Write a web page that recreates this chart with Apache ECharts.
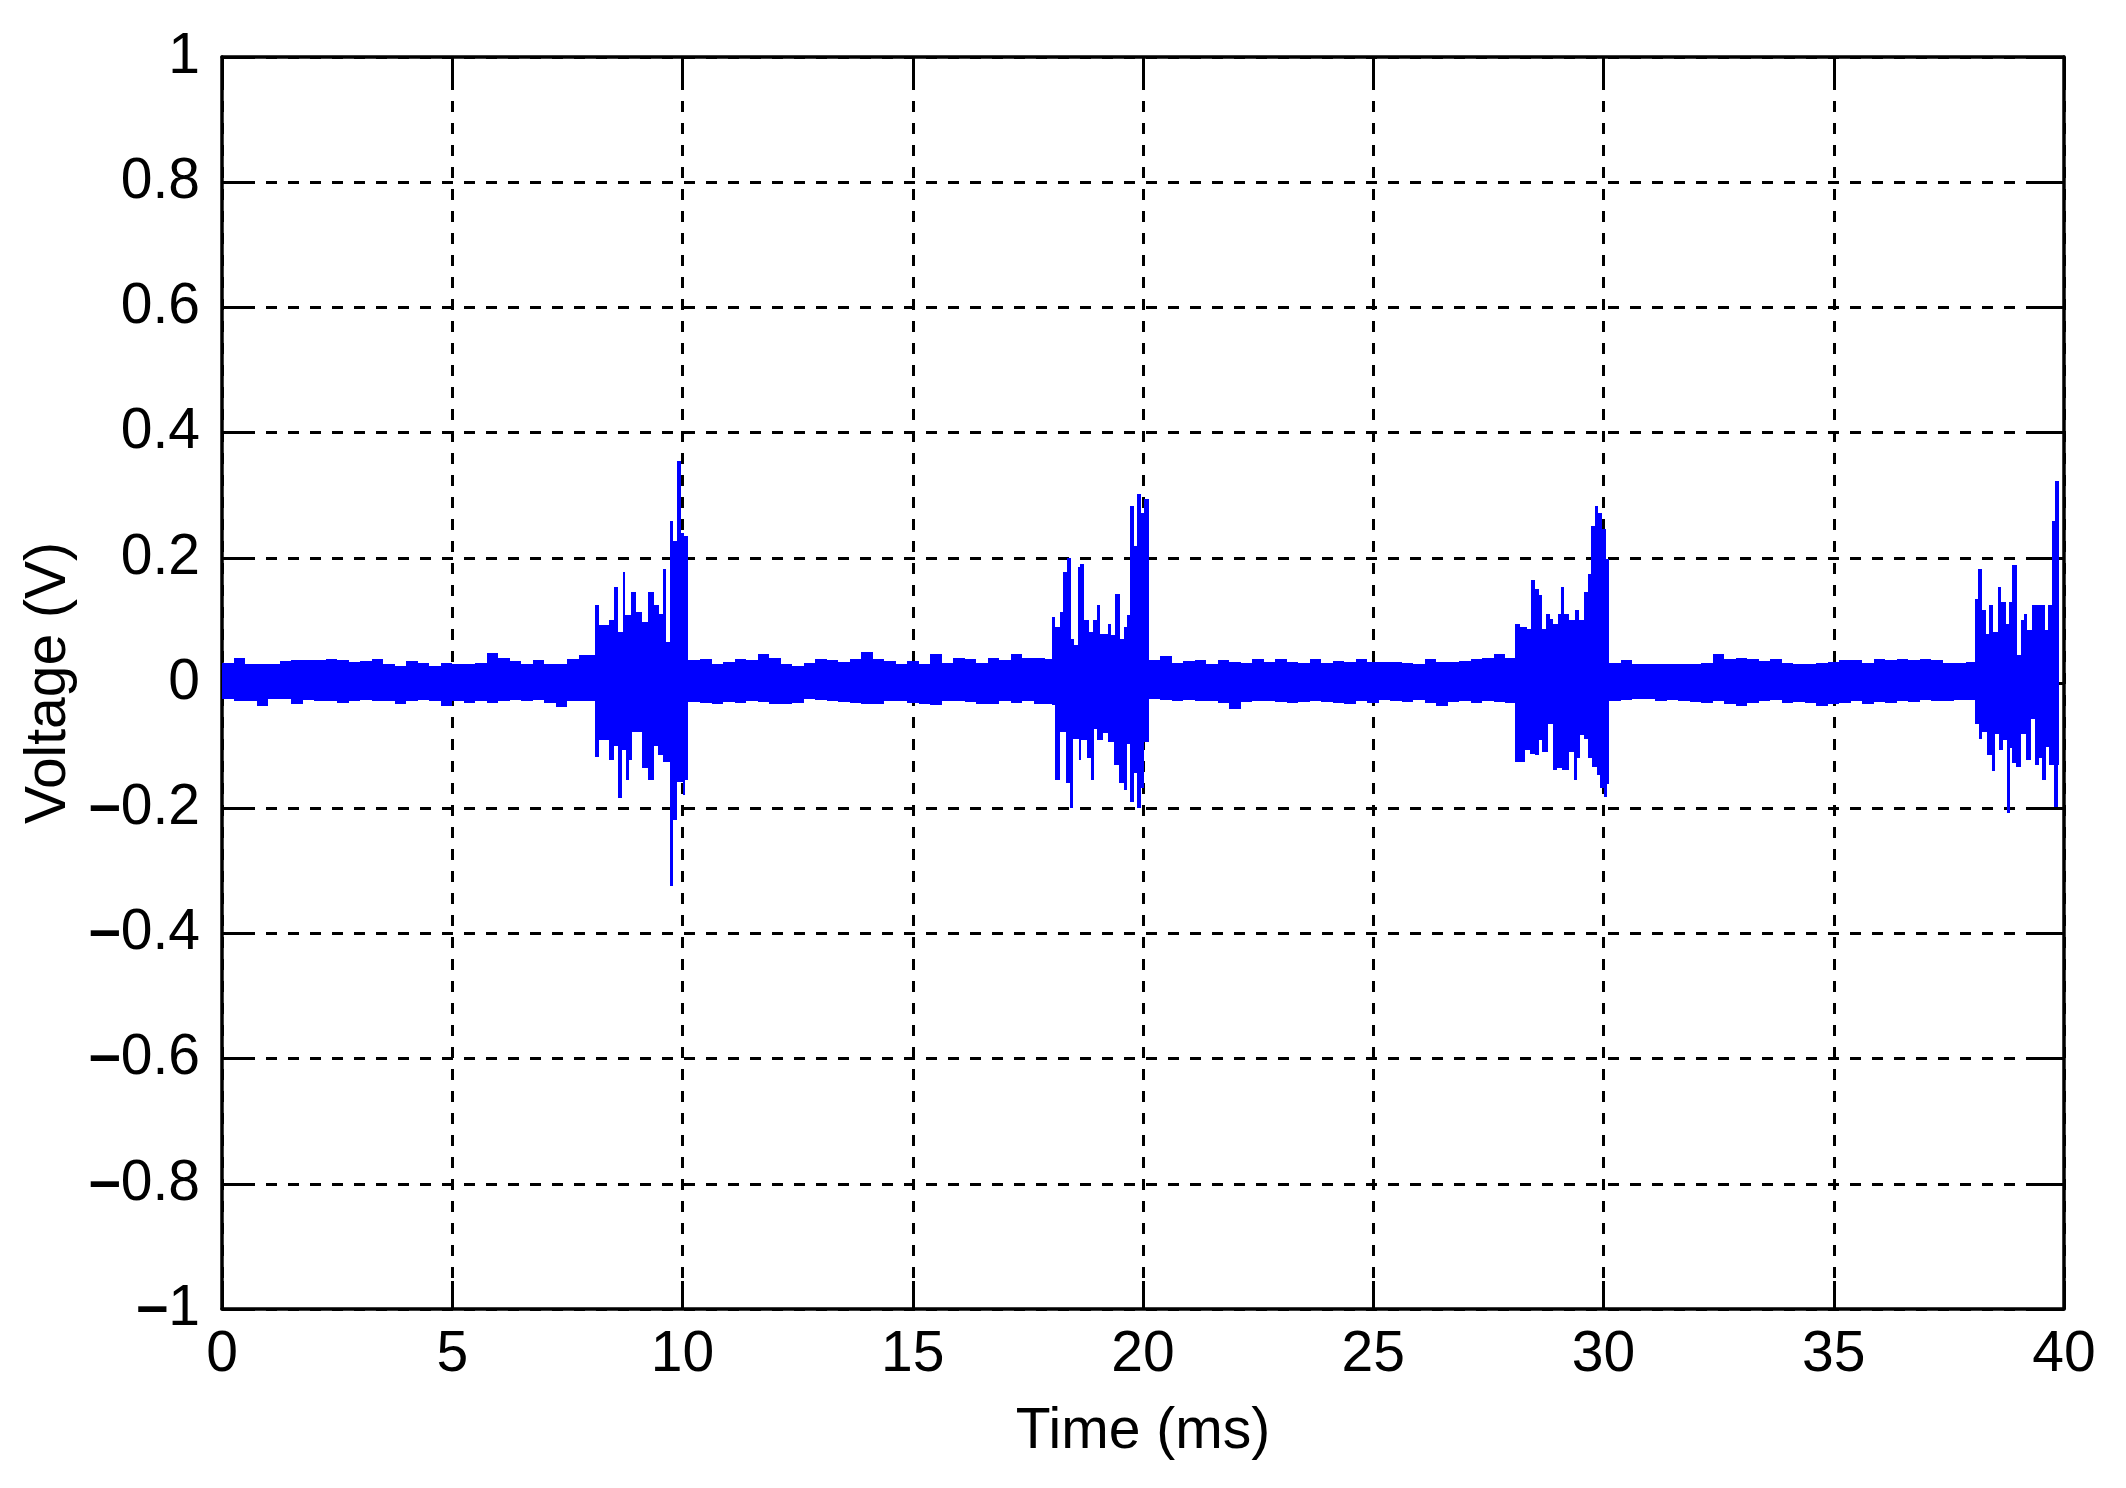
<!DOCTYPE html>
<html>
<head>
<meta charset="utf-8">
<title>Voltage (V) vs Time (ms)</title>
<script src="https://cdn.jsdelivr.net/npm/echarts@6/dist/echarts.min.js"></script>
<style>
    html, body { margin: 0; padding: 0; background: #fff; }
    #chart { width: 2126px; height: 1488px; }
</style>
</head>
<body>
<div id="chart"></div>
<script>
// signal envelope, volts
// quiet stretches: max / min of each 0.25 ms bin
var binWidth = 0.25;
var quietStarts = [0, 10.13, 20.12, 30.12];

var quiet0Hi = [0.032, 0.040, 0.030, 0.030, 0.031, 0.035, 0.036, 0.036, 0.036, 0.038, 0.036, 0.033, 0.035, 0.038, 0.030, 0.027,
                0.035, 0.032, 0.027, 0.032, 0.030, 0.030, 0.032, 0.048, 0.040, 0.035, 0.030, 0.036, 0.031, 0.031, 0.038, 0.044];
var quiet0Lo = [-0.026, -0.029, -0.029, -0.036, -0.025, -0.026, -0.033, -0.027, -0.029, -0.029, -0.032, -0.029, -0.027, -0.029, -0.029, -0.033,
                -0.029, -0.027, -0.029, -0.037, -0.029, -0.032, -0.029, -0.032, -0.029, -0.027, -0.029, -0.027, -0.032, -0.038, -0.029, -0.029];
var quiet1Hi = [0.036, 0.038, 0.031, 0.033, 0.039, 0.036, 0.046, 0.040, 0.030, 0.027, 0.032, 0.038, 0.036, 0.033, 0.039, 0.049,
                0.039, 0.035, 0.031, 0.035, 0.031, 0.046, 0.032, 0.040, 0.038, 0.032, 0.040, 0.036, 0.046, 0.040, 0.040, 0.038];
var quiet1Lo = [-0.031, -0.032, -0.034, -0.031, -0.032, -0.029, -0.031, -0.033, -0.033, -0.032, -0.026, -0.027, -0.029, -0.031, -0.032, -0.034,
                -0.033, -0.029, -0.029, -0.032, -0.033, -0.035, -0.029, -0.029, -0.031, -0.033, -0.034, -0.029, -0.032, -0.029, -0.034, -0.033];
var quiet2Hi = [0.036, 0.043, 0.032, 0.035, 0.036, 0.031, 0.036, 0.033, 0.032, 0.038, 0.033, 0.039, 0.033, 0.032, 0.038, 0.032,
                0.035, 0.033, 0.039, 0.033, 0.033, 0.033, 0.032, 0.031, 0.038, 0.033, 0.033, 0.035, 0.038, 0.040, 0.046, 0.040];
var quiet2Lo = [-0.026, -0.027, -0.029, -0.027, -0.029, -0.029, -0.032, -0.042, -0.031, -0.029, -0.029, -0.031, -0.032, -0.031, -0.029, -0.031,
                -0.032, -0.033, -0.029, -0.032, -0.027, -0.029, -0.031, -0.027, -0.032, -0.037, -0.031, -0.029, -0.032, -0.029, -0.031, -0.032];
var quiet3Hi = [0.032, 0.036, 0.031, 0.030, 0.030, 0.031, 0.030, 0.030, 0.032, 0.046, 0.039, 0.040, 0.039, 0.035, 0.038, 0.032,
                0.031, 0.031, 0.032, 0.033, 0.036, 0.036, 0.032, 0.038, 0.036, 0.039, 0.036, 0.038, 0.036, 0.032, 0.032, 0.033];
var quiet3Lo = [-0.029, -0.027, -0.026, -0.025, -0.029, -0.027, -0.029, -0.031, -0.032, -0.029, -0.033, -0.037, -0.032, -0.029, -0.027, -0.032,
                -0.031, -0.032, -0.037, -0.033, -0.032, -0.029, -0.034, -0.031, -0.032, -0.029, -0.031, -0.027, -0.029, -0.029, -0.027, -0.027];

// bursts: [time ms, volts] where the envelope steps
var burst1Hi = [[8.09, 0.124], [8.19, 0.092], [8.41, 0.100], [8.51, 0.153], [8.59, 0.081], [8.70, 0.177], [8.75, 0.108],
                [8.88, 0.145], [8.99, 0.113], [9.13, 0.097], [9.26, 0.145], [9.38, 0.124], [9.49, 0.110], [9.57, 0.182],
                [9.64, 0.065], [9.72, 0.259], [9.80, 0.227], [9.89, 0.355], [9.96, 0.240], [10.04, 0.235]];
var burst1Lo = [[8.09, -0.118], [8.19, -0.091], [8.41, -0.123], [8.51, -0.100], [8.59, -0.184], [8.69, -0.107], [8.77, -0.155],
                [8.84, -0.123], [8.91, -0.078], [9.13, -0.136], [9.24, -0.155], [9.38, -0.100], [9.46, -0.115], [9.57, -0.126],
                [9.72, -0.325], [9.80, -0.219], [9.89, -0.158], [10.00, -0.179], [10.05, -0.155]];
var burst2Hi = [[18.02, 0.105], [18.09, 0.089], [18.19, 0.113], [18.26, 0.177], [18.35, 0.200], [18.44, 0.071], [18.51, 0.060],
                [18.58, 0.185], [18.64, 0.190], [18.72, 0.100], [18.82, 0.081], [18.91, 0.100], [19.00, 0.124], [19.07, 0.079],
                [19.23, 0.095], [19.30, 0.076], [19.40, 0.142], [19.49, 0.071], [19.58, 0.090], [19.65, 0.108], [19.72, 0.283],
                [19.80, 0.219], [19.88, 0.302], [19.96, 0.272], [20.03, 0.294]];
var burst2Lo = [[18.02, -0.035], [18.09, -0.155], [18.19, -0.078], [18.33, -0.160], [18.41, -0.200], [18.49, -0.089], [18.60, -0.123],
                [18.65, -0.091], [18.78, -0.120], [18.86, -0.155], [18.93, -0.073], [19.01, -0.091], [19.14, -0.080], [19.25, -0.094],
                [19.36, -0.131], [19.47, -0.160], [19.58, -0.171], [19.65, -0.097], [19.72, -0.190], [19.80, -0.144], [19.87, -0.200],
                [19.96, -0.168], [20.03, -0.094]];
var burst3Hi = [[28.08, 0.095], [28.19, 0.089], [28.33, 0.087], [28.43, 0.164], [28.51, 0.150], [28.60, 0.140], [28.67, 0.087],
                [28.75, 0.110], [28.84, 0.103], [28.91, 0.095], [29.01, 0.110], [29.07, 0.153], [29.15, 0.110], [29.25, 0.100],
                [29.38, 0.116], [29.47, 0.100], [29.57, 0.145], [29.66, 0.174], [29.73, 0.251], [29.82, 0.283], [29.89, 0.272],
                [29.96, 0.246], [30.05, 0.198]];
var burst3Lo = [[28.08, -0.126], [28.30, -0.107], [28.41, -0.113], [28.51, -0.115], [28.60, -0.091], [28.66, -0.110], [28.80, -0.065],
                [28.91, -0.139], [28.99, -0.136], [29.09, -0.139], [29.24, -0.110], [29.35, -0.155], [29.42, -0.120], [29.49, -0.083],
                [29.57, -0.089], [29.67, -0.120], [29.75, -0.134], [29.86, -0.147], [29.93, -0.167], [30.00, -0.182], [30.07, -0.162]];
var burst4Hi = [[38.07, 0.134], [38.14, 0.182], [38.21, 0.116], [38.30, 0.079], [38.38, 0.124], [38.46, 0.081], [38.57, 0.153],
                [38.64, 0.129], [38.73, 0.095], [38.80, 0.129], [38.88, 0.188], [38.99, 0.044], [39.06, 0.100], [39.13, 0.110],
                [39.20, 0.084], [39.30, 0.124], [39.59, 0.084], [39.66, 0.124], [39.73, 0.259], [39.80, 0.323]];
var burst4Lo = [[38.07, -0.065], [38.15, -0.089], [38.22, -0.078], [38.33, -0.115], [38.44, -0.141], [38.51, -0.081], [38.59, -0.107],
                [38.67, -0.091], [38.77, -0.208], [38.82, -0.104], [38.88, -0.128], [38.96, -0.134], [39.06, -0.081], [39.17, -0.123],
                [39.28, -0.057], [39.38, -0.131], [39.46, -0.120], [39.53, -0.155], [39.60, -0.102], [39.67, -0.131], [39.78, -0.198],
                [39.86, -0.131]];
var signalEnd = 39.89;

var xTicks = { min: 0, max: 40, step: 5 };
var yTicks = { min: -1, max: 1, step: 0.2 };

// turn the envelope lists into [tStart, tEnd, volts] steps
function buildSteps(quiet, bursts) {
    var pts = [];
    for (var i = 0; i < quiet.length; i++) {
        var next = bursts[i][0][0];
        quiet[i].forEach(function (v, k) {
            var t = quietStarts[i] + k * binWidth;
            if (t < next) pts.push([+t.toFixed(3), v]);
        });
        bursts[i].forEach(function (p) { pts.push(p); });
    }
    pts.push([signalEnd, 0]);
    var steps = [];
    for (var j = 0; j < pts.length - 1; j++) {
        steps.push([pts[j][0], pts[j + 1][0], pts[j][1]]);
    }
    return steps;
}

var upperSteps = buildSteps([quiet0Hi, quiet1Hi, quiet2Hi, quiet3Hi], [burst1Hi, burst2Hi, burst3Hi, burst4Hi]);
var lowerSteps = buildSteps([quiet0Lo, quiet1Lo, quiet2Lo, quiet3Lo], [burst1Lo, burst2Lo, burst3Lo, burst4Lo]);

var chart = echarts.init(document.getElementById('chart'));
var FONT = '"Liberation Sans", Arial, sans-serif';
var FS = 57;

var tickStyle = { show: true, inside: true, length: 28, lineStyle: { color: '#000', width: 3 } };
var frameLine = { show: true, onZero: false, lineStyle: { color: '#000', width: 3.5 } };
var gridDash = { show: true, lineStyle: { color: '#000', width: 3, type: [11, 11] } };

// each step is a block between 0 V and the envelope value
function renderStep(params, api) {
    var a = api.coord([api.value(0), api.value(2)]);
    var b = api.coord([api.value(1), 0]);
    var x0 = Math.round(a[0]), x1 = Math.round(b[0]);
    var y0 = Math.round(Math.min(a[1], b[1])), y1 = Math.round(Math.max(a[1], b[1]));
    return {
        type: 'rect',
        shape: { x: x0, y: y0, width: Math.max(x1 - x0, 1), height: y1 - y0 },
        style: { fill: '#0000ff' }
    };
}

function stepSeries(data) {
    return {
        type: 'custom',
        data: data,
        renderItem: renderStep,
        encode: { x: [0, 1], y: 2 },
        silent: true,
        clip: true
    };
}

var option = {
    backgroundColor: '#fff',
    animation: false,
    grid: { left: 222, right: 62, top: 57, bottom: 179 },
    xAxis: [
        {
            type: 'value', min: xTicks.min, max: xTicks.max, interval: xTicks.step,
            name: 'Time (ms)', nameLocation: 'middle', nameGap: 95,
            nameTextStyle: { fontSize: FS, fontFamily: FONT, color: '#000' },
            axisLine: frameLine, axisTick: tickStyle, splitLine: gridDash,
            axisLabel: { fontSize: FS, fontFamily: FONT, color: '#000', margin: 18 }
        },
        {
            type: 'value', position: 'top', min: xTicks.min, max: xTicks.max, interval: xTicks.step,
            axisLine: frameLine, axisTick: tickStyle, splitLine: { show: false }, axisLabel: { show: false }
        }
    ],
    yAxis: [
        {
            type: 'value', min: yTicks.min, max: yTicks.max, interval: yTicks.step,
            name: 'Voltage (V)', nameLocation: 'middle', nameGap: 140,
            nameTextStyle: { fontSize: FS, fontFamily: FONT, color: '#000' },
            axisLine: frameLine, axisTick: tickStyle, splitLine: gridDash,
            axisLabel: {
                margin: 22,
                formatter: function (v) {
                    var s = String(+Math.abs(v).toFixed(1));
                    return v < -1e-9 ? '{m|\u2013}{n|' + s + '}' : '{n|' + s + '}';
                },
                rich: {
                    m: { fontSize: FS, fontFamily: FONT, fontWeight: 'bold', color: '#000' },
                    n: { fontSize: FS, fontFamily: FONT, color: '#000' }
                }
            }
        },
        {
            type: 'value', position: 'right', min: yTicks.min, max: yTicks.max, interval: yTicks.step,
            axisLine: frameLine, axisTick: tickStyle, splitLine: { show: false }, axisLabel: { show: false }
        }
    ],
    series: [stepSeries(upperSteps), stepSeries(lowerSteps)]
};

chart.setOption(option);
</script>
</body>
</html>
